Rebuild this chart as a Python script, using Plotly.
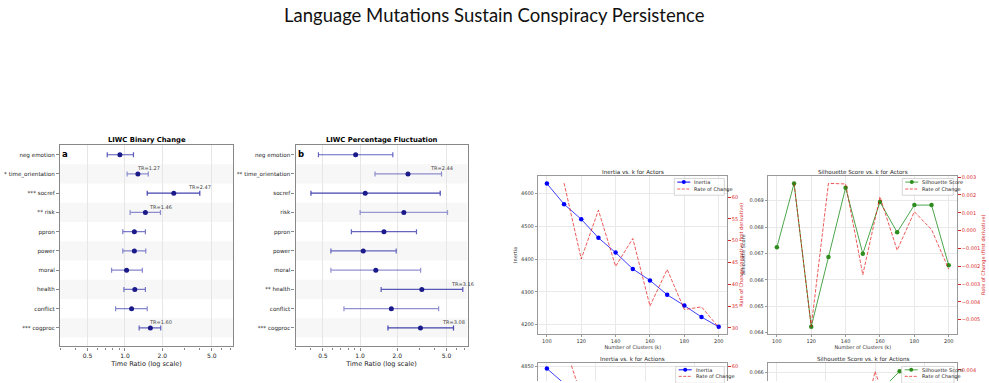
import math
import plotly.graph_objects as go

W, H = 989, 383

# ---------------- data ----------------
liwc_categories = ["neg emotion", "time_orientation", "socref", "risk", "ppron",
                   "power", "moral", "health", "conflict", "cogproc"]
stars_binary = ["", "*", "***", "**", "", "", "", "", "", "***"]
tr_binary = [0.91, 1.27, 2.47, 1.46, 1.19, 1.19, 1.03, 1.20, 1.13, 1.60]
ci_low_binary = [0.72, 1.04, 1.51, 1.10, 0.96, 0.96, 0.78, 0.98, 0.84, 1.30]
ci_high_binary = [1.17, 1.54, 4.00, 1.93, 1.46, 1.47, 1.38, 1.46, 1.51, 1.94]

stars_pct = ["", "**", "", "", "", "", "", "**", "", "***"]
tr_pct = [0.92, 2.44, 1.10, 2.26, 1.56, 1.06, 1.34, 3.16, 1.79, 3.08]
ci_low_pct = [0.46, 1.32, 0.40, 1.00, 0.85, 0.58, 0.58, 1.48, 0.74, 1.68]
ci_high_pct = [1.84, 4.56, 4.45, 5.10, 2.86, 1.96, 3.09, 6.78, 4.32, 5.70]

tr_tickvals = [0.5, 1.0, 2.0, 5.0]
tr_ticktext = ["0.5", "1.0", "2.0", "5.0"]
tr_minor = [0.3, 0.4, 0.6, 0.7, 0.8, 0.9, 3, 4, 6, 7]

k_actors = [100, 110, 120, 130, 140, 150, 160, 170, 180, 190, 200]
inertia_actors = [4631, 4568, 4522, 4465, 4420, 4370, 4335, 4291, 4258, 4223, 4193]
inertia_rate_actors = [63.2, 45.8, 57.0, 44.1, 50.5, 35.0, 43.4, 34.2, 34.8, 30.1]
silhouette_actors = [0.06723, 0.06965, 0.06423, 0.06687, 0.06949, 0.06699,
                     0.06895, 0.06780, 0.06883, 0.06883, 0.06655]
silhouette_rate_actors = [0.00265, -0.00539, 0.00265, 0.00262, -0.00248,
                          0.00190, -0.00110, 0.00106, 0.00006, -0.00217]

k_actions = [100, 110, 120, 130, 140, 150, 160, 170]
inertia_actions = [4845, 4785, 4742, 4700, 4662, 4628, 4596, 4566]
inertia_rate_actions = [60.2, 43, 42, 38, 34, 32, 30]
silhouette_actions = [0.0648, 0.0645, 0.0640, 0.0638, 0.06509, 0.06603, 0.06541, 0.0650]
silhouette_rate_actions = [-0.0003, -0.0005, -0.0018, 0.00391, -0.0001, -0.0006, -0.0004]

# ---------------- styles ----------------
alpha_binary = [0.75, 0.5, 0.85, 0.5, 0.6, 0.55, 0.55, 0.6, 0.55, 0.7]
alpha_pct = [0.7, 0.5, 0.85, 0.45, 0.7, 0.7, 0.5, 0.75, 0.5, 0.85]

FONT = "DejaVu Sans"
RED = "#d62728"
BLUE_LINE = "rgba(0,0,255,0.75)"
RED_LINE = "rgba(230,0,0,0.65)"
GREEN_LINE = "rgba(0,128,0,0.7)"

# panel pixel boxes (left, right, top, bottom)
PA = (60, 233, 145, 348)
PB = (295.5, 467.5, 145, 348)
PC = (538.3, 727.3, 176, 335)
PD = (768.3, 957.3, 176, 335)
PE = (538.3, 727.3, 365, 383)
PF = (768.3, 957.3, 365, 383)


def xdom(p):
    return [p[0] / W, p[1] / W]


def ydom(p):
    return [max(0.0, 1 - p[3] / H), 1 - p[2] / H]


def px(x):
    return x / W


def py(y):
    return 1 - y / H


fig = go.Figure()
shapes = []
annotations = []

# ---------------- forest panels ----------------
def forest(xa, ya, tr, lo, hi, stars, alphas, panel, letter, title):
    xref = xa.replace("axis", "")
    yref = ya.replace("axis", "")
    for i in range(len(liwc_categories)):
        fig.add_trace(go.Scatter(
            x=[tr[i]], y=[i], mode="markers",
            marker=dict(color="#1a1a8a", size=5),
            error_x=dict(type="data", symmetric=False,
                         array=[hi[i] - tr[i]], arrayminus=[tr[i] - lo[i]],
                         color=f"rgba(35,35,165,{alphas[i]})", thickness=1.2, width=2.5),
            xaxis=xref, yaxis=yref, showlegend=False, hoverinfo="skip"))
        if i % 2 == 1:
            shapes.append(dict(type="rect", xref=f"{xref} domain", yref=yref,
                               x0=0, x1=1, y0=i - 0.5, y1=i + 0.5,
                               fillcolor="#f7f7f7", line=dict(width=0), layer="below"))
        if stars[i]:
            annotations.append(dict(x=math.log10(hi[i]), y=i - 0.3, xref=xref, yref=yref,
                                    text=f"TR={tr[i]:.2f}", showarrow=False,
                                    font=dict(size=5, color="#444", family=FONT),
                                    xanchor="center", yanchor="middle"))
    shapes.append(dict(type="line", xref=xref, yref=f"{yref} domain",
                       x0=math.log10(1.0), x1=math.log10(1.0), y0=0, y1=1,
                       line=dict(color="#aaaaaa", width=1, dash="dot"), layer="below"))
    ticktext = [(s + " " + c) if s else c for s, c in zip(stars, liwc_categories)]
    fig.update_layout({
        xa: dict(type="log", domain=xdom(panel), anchor=yref,
                 range=[math.log10(0.3), math.log10(7.4)],
                 tickvals=tr_tickvals, ticktext=tr_ticktext,
                 showgrid=True, gridcolor="#e6e6e6", gridwidth=1, zeroline=False,
                 showline=True, mirror=True, linecolor="#888", linewidth=1.3,
                 ticks="outside", ticklen=3, tickcolor="#888",
                 tickfont=dict(size=6, color="#222", family=FONT),
                 minor=dict(tickvals=tr_minor, ticks="outside", ticklen=2,
                            tickcolor="#888", showgrid=False),
                 title=dict(text="Time Ratio (log scale)", standoff=3,
                            font=dict(size=6.5, color="#222", family=FONT))),
        ya: dict(domain=ydom(panel), anchor=xref, range=[9.96, -0.48],
                 tickvals=list(range(len(liwc_categories))), ticktext=ticktext,
                 showgrid=False, zeroline=False,
                 showline=True, mirror=True, linecolor="#888", linewidth=1.3,
                 ticks="outside", ticklen=3, tickcolor="#888",
                 tickfont=dict(size=5.6, color="#222", family=FONT)),
    })
    annotations.append(dict(x=px(panel[0] + 5), y=py(panel[2] + 8.5), xref="paper", yref="paper",
                            text=f"<b>{letter}</b>", showarrow=False, xanchor="center",
                            yanchor="middle", font=dict(size=8.5, color="#000", family=FONT)))
    annotations.append(dict(x=px((panel[0] + panel[1]) / 2), y=py(panel[2] - 6),
                            xref="paper", yref="paper", text=f"<b>{title}</b>",
                            showarrow=False, xanchor="center", yanchor="middle",
                            font=dict(size=6.8, color="#000", family=FONT)))


forest("xaxis", "yaxis", tr_binary, ci_low_binary, ci_high_binary, stars_binary,
       alpha_binary, PA, "a", "LIWC Binary Change")
forest("xaxis2", "yaxis2", tr_pct, ci_low_pct, ci_high_pct, stars_pct,
       alpha_pct, PB, "b", "LIWC Percentage Fluctuation")

# ---------------- cluster panels ----------------
def legend_box(x0, x1, y0, rows, entries):
    shapes.append(dict(type="rect", xref="paper", yref="paper",
                       x0=px(x0), x1=px(x1), y0=py(y0), y1=py(y0 + 7 * len(rows) + 3),
                       fillcolor="rgba(255,255,255,0.85)",
                       line=dict(color="#cccccc", width=0.8)))
    for ry, (label, color, dash, marker) in zip(rows, entries):
        shapes.append(dict(type="line", xref="paper", yref="paper",
                           x0=px(x0 + 3), x1=px(x0 + 16), y0=py(ry), y1=py(ry),
                           line=dict(color=color, width=1, dash=dash)))
        if marker:
            shapes.append(dict(type="circle", xref="paper", yref="paper",
                               x0=px(x0 + 9.5 - 2), x1=px(x0 + 9.5 + 2),
                               y0=py(ry - 2), y1=py(ry + 2),
                               fillcolor=marker, line=dict(color=marker, width=0)))
        annotations.append(dict(x=px(x0 + 18), y=py(ry), xref="paper", yref="paper",
                                text=label, showarrow=False, xanchor="left", yanchor="middle",
                                font=dict(size=5, color="#222", family=FONT)))


def cluster_panel(n, panel, k, main, rate, main_color, main_marker, xr, yr, yr2,
                  dtick_l, dtick_r, fmt_l, fmt_r, title, ytitle, y2title, show_bottom, legend_entries):
    xa = f"xaxis{n}"
    ya = f"yaxis{2 * n - 3}"
    ya2 = f"yaxis{2 * n - 2}"
    xref = xa.replace("axis", "")
    yref = ya.replace("axis", "")
    yref2 = ya2.replace("axis", "")
    fig.add_trace(go.Scatter(x=k, y=main, mode="lines+markers",
                             line=dict(color=main_color, width=1),
                             marker=dict(color=main_marker, size=4.5),
                             xaxis=xref, yaxis=yref, showlegend=False, hoverinfo="skip"))
    fig.add_trace(go.Scatter(x=k[1:], y=rate, mode="lines",
                             line=dict(color=RED_LINE, width=1, dash="3.5px,1.6px"),
                             xaxis=xref, yaxis=yref2, showlegend=False, hoverinfo="skip"))
    tickfont = dict(size=5, color="#333", family=FONT)
    xdict = dict(domain=xdom(panel), anchor=yref, range=xr, tick0=100, dtick=20,
                 showgrid=True, gridcolor="#e9e9e9", zeroline=False,
                 ticks="outside" if show_bottom else "", ticklen=2.5, tickcolor="#999",
                 showticklabels=show_bottom, tickfont=tickfont,
                 showline=True, linecolor="#999", linewidth=1)
    if show_bottom:
        xdict.update(mirror=True, title=dict(text="Number of Clusters (k)", standoff=2,
                                             font=dict(size=5, color="#333", family=FONT)))
    else:
        xdict.update(side="top", mirror=False)
    ydict = dict(domain=ydom(panel), anchor=xref, range=yr, dtick=dtick_l, tickformat=fmt_l,
                 showgrid=True, gridcolor="#e9e9e9", zeroline=False,
                 ticks="outside", ticklen=2.5, tickcolor="#999", tickfont=tickfont,
                 showline=True, mirror=True, linecolor="#999", linewidth=1)
    y2dict = dict(overlaying=yref, side="right", anchor=xref, range=yr2, dtick=dtick_r,
                  tickformat=fmt_r, showgrid=False, zeroline=False,
                  ticks="outside", ticklen=2.5, tickcolor=RED,
                  tickfont=dict(size=5, color=RED, family=FONT), showline=False)
    if show_bottom:
        ydict["title"] = dict(text=ytitle, standoff=3, font=dict(size=5, color="#333", family=FONT))
        y2dict["title"] = dict(text=y2title, standoff=1, font=dict(size=5, color=RED, family=FONT))
    fig.update_layout({xa: xdict, ya: ydict, ya2: y2dict})
    annotations.append(dict(x=px((panel[0] + panel[1]) / 2), y=py(panel[2] - 4),
                            xref="paper", yref="paper", text=title, showarrow=False,
                            xanchor="center", yanchor="middle",
                            font=dict(size=5.6, color="#222", family=FONT)))
    lx0, lx1, ly0, rows = legend_entries[0]
    legend_box(lx0, lx1, ly0, rows, legend_entries[1])


cluster_panel(3, PC, k_actors, inertia_actors, inertia_rate_actors, BLUE_LINE, "blue",
              [95, 205], [4172.7, 4653.6], [28.7, 64.8], 100, 5, "d", "d",
              "Inertia vs. k for Actors", "Inertia", "Rate of Change (negative first derivative)", True,
              ((674.3, 724.3, 178.3, [182, 189]),
               [("Inertia", "blue", "solid", "blue"), ("Rate of Change", RED_LINE, "3px,1.5px", None)]))
cluster_panel(4, PD, k_actors, silhouette_actors, silhouette_rate_actors, GREEN_LINE, "#2e8b1e",
              [95, 205], [0.06397, 0.069925], [-0.005778, 0.003056], 0.001, 0.001, ".3f", ".3f",
              "Silhouette Score vs. k for Actors", "Silhouette Score", "Rate of Change (first derivative)", True,
              ((902.3, 953.3, 178.3, [182, 189]),
               [("Silhouette Score", GREEN_LINE, "solid", "#2e8b1e"), ("Rate of Change", RED_LINE, "3px,1.5px", None)]))
cluster_panel(5, PE, k_actions, inertia_actions, inertia_rate_actions, BLUE_LINE, "blue",
              [96.5, 173.5], [4810.0, 4860.0], [56.66, 60.75], 100, 10, "d", "d",
              "Inertia vs. k for Actions", "Inertia", "", False,
              ((675.7, 724.3, 368.3, [371.7, 378.3]),
               [("Inertia", "blue", "solid", "blue"), ("Rate of Change", RED_LINE, "3px,1.5px", None)]))
cluster_panel(6, PF, k_actions, silhouette_actions, silhouette_rate_actions, GREEN_LINE, "#2e8b1e",
              [96.5, 173.5], [0.065663, 0.066337], [0.00337, 0.00437], 0.001, 0.001, ".3f", ".3f",
              "Silhouette Score vs. k for Actions", "", "", False,
              ((901.7, 954.0, 368.3, [371.7, 378.3]),
               [("Silhouette Score", GREEN_LINE, "solid", "#2e8b1e"), ("Rate of Change", RED_LINE, "3px,1.5px", None)]))

# tick0 for Actions inertia so 4850 shows
fig.update_layout(yaxis7=dict(tick0=4850), yaxis8=dict(tick0=60))

annotations.append(dict(x=0.5, y=py(13), xref="paper", yref="paper",
                        text="Language Mutations Sustain Conspiracy Persistence",
                        showarrow=False, xanchor="center", yanchor="middle",
                        font=dict(size=18.5, color="#111", family="Lato")))

fig.update_layout(width=W, height=H, autosize=False,
                  margin=dict(l=0, r=0, t=0, b=0, pad=0),
                  paper_bgcolor="white", plot_bgcolor="white",
                  showlegend=False, shapes=shapes, annotations=annotations,
                  font=dict(family=FONT, size=6, color="#222"))

fig.write_html("out.html", config=dict(displayModeBar=False))
